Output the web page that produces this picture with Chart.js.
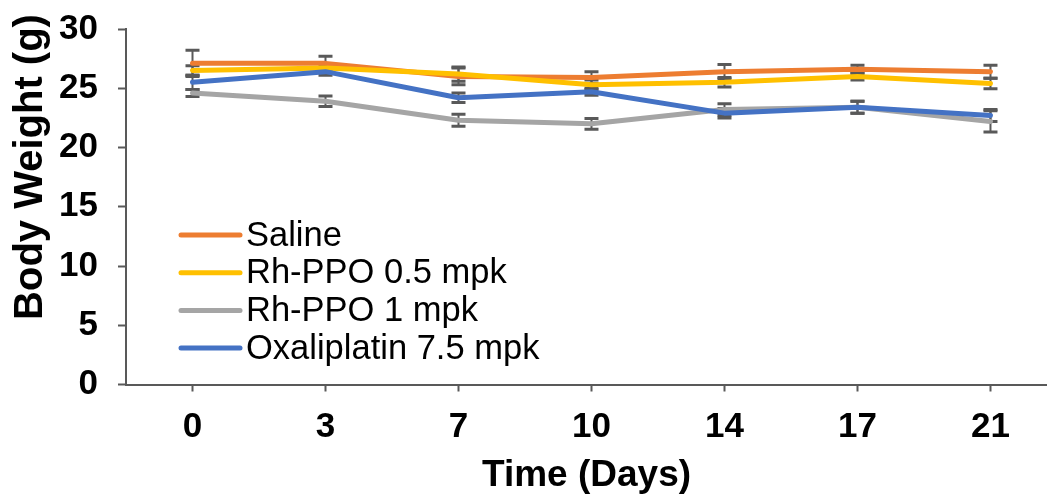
<!DOCTYPE html>
<html>
<head>
<meta charset="utf-8">
<title>Body Weight</title>
<script src="https://cdn.jsdelivr.net/npm/chart.js@4/dist/chart.umd.min.js"></script>
<style>
  html, body { margin: 0; padding: 0; background: #fff; }
  #wrap { width: 1047px; height: 498px; position: relative; }
</style>
</head>
<body>
<div id="wrap"><canvas id="grafico"></canvas></div>
<script>
const days = ['0', '3', '7', '10', '14', '17', '21'];
const yTicks = [0, 5, 10, 15, 20, 25, 30];

const saline = [27.1, 27.1, 26.0, 25.9, 26.4, 26.6, 26.4];
const salineErr = [1.1, 0.6, 0.7, 0.5, 0.6, 0.35, 0.55];
const rh05 = [26.5, 26.7, 26.2, 25.3, 25.5, 26.0, 25.4];
const rh05Err = [0.4, 0.3, 0.6, 0.4, 0.4, 0.3, 0.45];
const rh1 = [24.6, 23.9, 22.3, 22.0, 23.2, 23.4, 22.2];
const rh1Err = [0.3, 0.45, 0.5, 0.45, 0.5, 0.5, 0.9];
const oxali = [25.5, 26.4, 24.2, 24.7, 22.9, 23.4, 22.7];
const oxaliErr = [0.6, 0.3, 0.4, 0.3, 0.4, 0.5, 0.5];

const FONT = "'Liberation Sans', Arial, sans-serif";
const AXIS = '#595959';

function serie(label, values, errors, color, order) {
    return {
        label: label,
        data: values.map((v, i) => ({ x: i, y: v })),
        errors: errors,
        borderColor: color,
        backgroundColor: color,
        borderWidth: 5,
        borderCapStyle: 'round',
        borderJoinStyle: 'round',
        pointRadius: 0,
        tension: 0,
        order: order
    };
}

// error bars drawn under the lines
const barrasError = {
    id: 'barrasError',
    beforeDatasetsDraw(chart) {
        const ctx = chart.ctx;
        const xs = chart.scales.x, ys = chart.scales.y;
        ctx.save();
        ctx.strokeStyle = AXIS;
        chart.data.datasets.forEach(ds => {
            ds.data.forEach((p, i) => {
                const e = ds.errors[i];
                const x = xs.getPixelForValue(p.x);
                const yTop = ys.getPixelForValue(p.y + e);
                const yBot = ys.getPixelForValue(p.y - e);
                ctx.lineWidth = 2;
                ctx.beginPath();
                ctx.moveTo(x, yTop);
                ctx.lineTo(x, yBot);
                ctx.stroke();
                ctx.lineWidth = 3;
                ctx.beginPath();
                ctx.moveTo(x - 7, yTop);
                ctx.lineTo(x + 7, yTop);
                ctx.moveTo(x - 7, yBot);
                ctx.lineTo(x + 7, yBot);
                ctx.stroke();
            });
        });
        ctx.restore();
    }
};

// y title sits a little above the middle of the axis, plus the legend inside the plot
const textos = {
    id: 'textos',
    afterDraw(chart) {
        const ctx = chart.ctx;
        const area = chart.chartArea;
        ctx.save();
        ctx.fillStyle = '#000';
        ctx.font = 'bold 40px ' + FONT;
        ctx.textAlign = 'center';
        ctx.textBaseline = 'middle';
        ctx.translate(31, area.top + 138);
        ctx.rotate(-Math.PI / 2);
        ctx.fillText('Body Weight (g)', 0, 0);
        ctx.restore();

        const x0 = area.left + 55;
        const y0 = area.top + 206;
        ctx.save();
        ctx.font = '34.5px ' + FONT;
        ctx.textBaseline = 'middle';
        ctx.textAlign = 'left';
        chart.data.datasets.forEach((ds, i) => {
            const y = y0 + i * 37.7;
            ctx.strokeStyle = ds.borderColor;
            ctx.lineWidth = 5;
            ctx.lineCap = 'round';
            ctx.beginPath();
            ctx.moveTo(x0, y);
            ctx.lineTo(x0 + 59, y);
            ctx.stroke();
            ctx.fillStyle = '#000';
            ctx.fillText(ds.label, x0 + 65, y + 1);
        });
        ctx.restore();
    }
};

const ctx = document.getElementById('grafico').getContext('2d');
const grafico = new Chart(ctx, {
    type: 'line',
    data: {
        datasets: [
            serie('Saline', saline, salineErr, '#ED7D31', 4),
            serie('Rh-PPO 0.5 mpk', rh05, rh05Err, '#FFC000', 3),
            serie('Rh-PPO 1 mpk', rh1, rh1Err, '#A5A5A5', 2),
            serie('Oxaliplatin 7.5 mpk', oxali, oxaliErr, '#4472C4', 1)
        ]
    },
    options: {
        responsive: true,
        maintainAspectRatio: false,
        animation: false,
        layout: { padding: { top: 29, right: 0, bottom: 0, left: 0 } },
        plugins: {
            legend: { display: false },
            tooltip: { enabled: false }
        },
        scales: {
            x: {
                type: 'linear',
                min: -0.5,
                max: 6.425,
                afterBuildTicks: s => { s.ticks = days.map((d, i) => ({ value: i })); },
                afterFit: s => { s.height = 113.5; s.paddingLeft = 0; s.paddingRight = 0; },
                grid: {
                    drawOnChartArea: false,
                    drawTicks: true,
                    tickLength: 7,
                    tickColor: AXIS,
                    tickWidth: 2
                },
                border: { display: true, color: AXIS, width: 2 },
                ticks: {
                    padding: 15,
                    color: '#000',
                    font: { family: FONT, size: 35, weight: 'bold' },
                    callback: v => days[v]
                },
                title: {
                    display: true,
                    text: 'Time (Days)',
                    color: '#000',
                    font: { family: FONT, size: 37, weight: 'bold' },
                    padding: { top: 0, bottom: 0 }
                }
            },
            y: {
                min: 0,
                max: 30,
                afterBuildTicks: s => { s.ticks = yTicks.map(v => ({ value: v })); },
                afterFit: s => { s.width = 126; s.paddingTop = 0; s.paddingBottom = 0; },
                grid: {
                    drawOnChartArea: false,
                    drawTicks: true,
                    tickLength: 8,
                    tickColor: AXIS,
                    tickWidth: 2
                },
                border: { display: true, color: AXIS, width: 2 },
                ticks: {
                    padding: 20,
                    color: '#000',
                    font: { family: FONT, size: 35, weight: 'bold' }
                },
                title: { display: false }
            }
        }
    },
    plugins: [barrasError, textos]
});
</script>
</body>
</html>
